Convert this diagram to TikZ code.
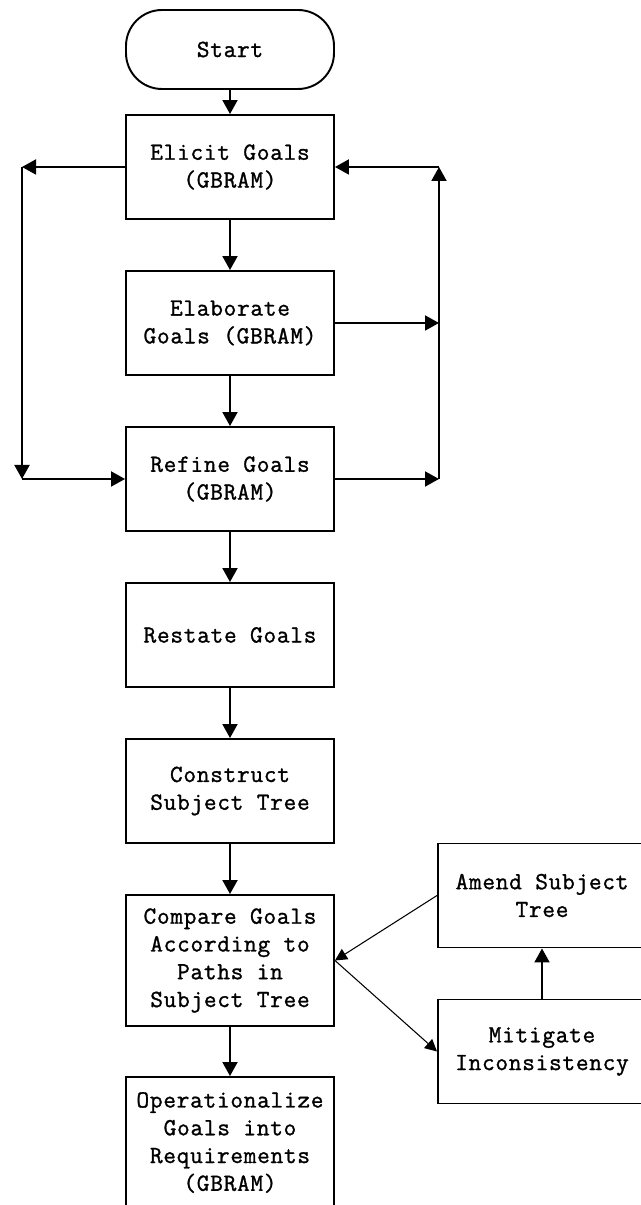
\documentclass[tikz,border=0pt]{standalone}
\usepackage{fontspec}
\setmonofont[LetterSpace=3, FakeBold=1.2]{Latin Modern Mono}
\usetikzlibrary{arrows.meta, positioning, calc}

\begin{document}
\begin{tikzpicture}[
        every node/.style={font=\ttfamily\fontsize{14}{15.8}\selectfont, align=center},
        stepbox/.style={draw, line width=1.1pt, minimum width=4.16cm, minimum height=2.08cm, inner sep=1pt},
        tallbox/.style={stepbox, minimum height=2.62cm},
        termbox/.style={draw, line width=1.1pt, rounded corners=0.72cm, minimum width=4.16cm, minimum height=1.58cm},
        flow/.style={line width=1.1pt, -{Triangle[length=0.28cm, width=0.3cm]}},
        thinflow/.style={line width=0.6pt, -{Triangle[length=0.24cm, width=0.24cm]}}
    ]
        % --- Frame ---
        \useasboundingbox (0,0) rectangle (12.82,24.1);
        \clip (0,0) rectangle (12.82,24.1);

        % --- Main column ---
        \node[termbox] (start) at (4.6,23.11) {Start};
        \node[stepbox] (elicit) at (4.6,20.76) {Elicit Goals\\(GBRAM)};
        \node[stepbox] (elab) at (4.6,17.64) {Elaborate\\Goals (GBRAM)};
        \node[stepbox] (refine) at (4.6,14.52) {Refine Goals\\(GBRAM)};
        \node[stepbox] (restate) at (4.6,11.40) {Restate Goals};
        \node[stepbox] (construct) at (4.6,8.28) {Construct\\Subject Tree};
        \node[tallbox] (compare) at (4.6,4.89) {Compare Goals\\According to\\Paths in\\Subject Tree};
        \node[tallbox] (oper) at (4.6,1.25) {Operationalize\\Goals into\\Requirements\\(GBRAM)};

        % --- Side column ---
        \node[stepbox] (amend) at (10.84,6.19) {Amend Subject\\Tree};
        \node[stepbox] (mitig) at (10.84,3.07) {Mitigate\\Inconsistency};

        % --- Loop corners ---
        \coordinate (ltop) at (0.44,20.76);
        \coordinate (lbot) at (0.44,14.52);
        \coordinate (rtop) at (8.78,20.76);
        \coordinate (rmid) at (8.78,17.64);
        \coordinate (rbot) at (8.78,14.52);

        % --- Downward flow ---
        \draw[flow] (start) -- (elicit);
        \draw[flow] (elicit) -- (elab);
        \draw[flow] (elab) -- (refine);
        \draw[flow] (refine) -- (restate);
        \draw[flow] (restate) -- (construct);
        \draw[flow] (construct) -- (compare);
        \draw[flow] (compare) -- (oper);

        % --- Left loop ---
        \draw[flow] (elicit.west) -- (ltop);
        \draw[flow] (ltop) -- (lbot);
        \draw[flow] (lbot) -- (refine.west);

        % --- Right loop ---
        \draw[flow] (elab.east) -- (rmid);
        \draw[flow] (refine.east) -- (rbot);
        \draw[flow] (rbot) -- (rtop);
        \draw[flow] (rtop) -- (elicit.east);

        % --- Inconsistency cycle ---
        \draw[thinflow] (compare.east) -- (mitig.west);
        \draw[flow] (mitig) -- (amend);
        \draw[thinflow] (amend.west) -- (compare.east);
    \end{tikzpicture}
\end{document}
